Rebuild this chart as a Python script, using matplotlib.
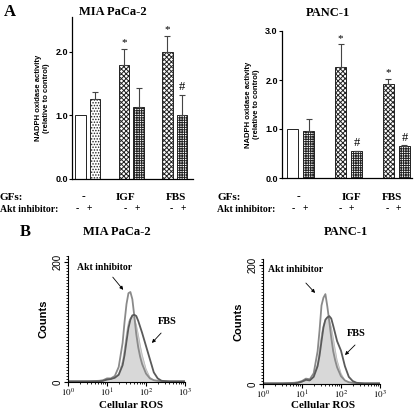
import numpy as np
import matplotlib
matplotlib.use('Agg')
import matplotlib.pyplot as plt
from matplotlib.patches import FancyArrowPatch
from matplotlib.ticker import MultipleLocator, LogLocator, NullFormatter

plt.rcParams['hatch.linewidth'] = 0.7
plt.rcParams['mathtext.fontset'] = 'stix'

# panel A data
groups = ['-', 'IGF', 'FBS']
akt = ['-', '+']
mia_mean = [1.0, 1.26, 1.795, 1.13, 2.0, 1.01]
mia_err = [0.0, 0.11, 0.245, 0.31, 0.25, 0.31]
mia_marks = ['', '', '*', '', '*', '#']
panc_mean = [1.0, 0.96, 2.26, 0.55, 1.91, 0.65]
panc_err = [0.0, 0.25, 0.47, 0.01, 0.11, 0.02]
panc_marks = ['', '', '*', '#', '*', '#']

# panel B data (log10 of cellular ROS, counts)
log_ros = [0.0, 0.5, 0.8, 0.9, 1.0, 1.1, 1.2, 1.3, 1.4, 1.45, 1.5, 1.55, 1.6, 1.65,
           1.7, 1.75, 1.8, 1.85, 1.9, 2.0, 2.1, 2.2, 2.3, 2.4, 2.6, 3.0]
mia_akt = [1, 1, 2, 3, 6, 6, 10, 25, 65, 100, 130, 148, 150, 138,
           110, 80, 58, 42, 30, 14, 6, 3, 2, 1, 1, 1]
mia_fbs = [1, 1, 1, 2, 4, 5, 7, 12, 28, 45, 68, 90, 104, 111,
           112, 110, 102, 92, 82, 60, 38, 16, 6, 2, 1, 1]
mia_ctl = [0, 0, 1, 2, 3, 4, 7, 14, 36, 58, 82, 100, 107, 110,
           106, 96, 80, 62, 46, 22, 8, 3, 1, 0, 0, 0]
panc_akt = [1, 1, 2, 3, 5, 9, 8, 18, 55, 90, 132, 145, 151, 130,
            105, 78, 55, 40, 28, 13, 6, 3, 2, 1, 1, 1]
panc_fbs = [1, 1, 1, 2, 4, 7, 6, 12, 30, 48, 72, 95, 108, 112,
            114, 110, 98, 85, 72, 56, 30, 12, 5, 2, 1, 1]
panc_ctl = [0, 0, 1, 2, 3, 5, 5, 12, 35, 60, 85, 100, 108, 111,
            108, 96, 78, 58, 40, 18, 6, 2, 1, 0, 0, 0]

W, H = 416, 412
fig = plt.figure(figsize=(W / 100, H / 100), dpi=100)


def fx(x):
    return x / W


def fy(y):
    return 1 - y / H


def box(l, t, r, b):
    return [fx(l), fy(b), fx(r) - fx(l), fy(t) - fy(b)]


serif = 'Liberation Serif'
sans = 'Liberation Sans'
pos = [0, 1, 3, 4, 6, 7]


def bar_panel(rect, mean, err, marks, hatches, ylim, ticks, xlim, width):
    ax = fig.add_axes(rect)
    for p, m, e, h, mk in zip(pos, mean, err, hatches, marks):
        ax.bar(p, m, width=width, color='white', edgecolor='#222222', hatch=h, linewidth=0.7)
        if e > 0:
            ax.errorbar(p, m, yerr=[[0], [e]], color='#444444', capsize=2, elinewidth=0.8, capthick=0.8)
        if mk:
            ax.text(p, m + e + 0.03, mk, ha='center', va='bottom', family=serif, fontsize=9 if mk == '#' else 8)
    ax.set_ylim(*ylim)
    ax.set_xlim(*xlim)
    ax.spines['top'].set_visible(False)
    ax.spines['right'].set_visible(False)
    ax.set_xticks([])
    ax.set_yticks(ticks)
    ax.set_yticklabels(['%.1f' % t for t in ticks], family=sans, fontweight='bold', fontsize=6.5)
    ax.tick_params(axis='y', length=2, width=0.8, pad=1)
    for s in ['left', 'bottom']:
        ax.spines[s].set_linewidth(0.9)
    ax.set_ylabel('NADPH oxidase activity\n(relative to control)', family=sans,
                  fontweight='bold', fontsize=5.5, labelpad=4)
    return ax


ax1 = bar_panel(box(72, 17, 193, 179), mia_mean, mia_err, mia_marks,
                ['', '......', 'xxxxxxx', '+++++++', 'xxxxxxx', '+++++++'],
                (0, 2.55), [0.0, 1.0, 2.0], (-0.59, 7.76), 0.72)
ax2 = bar_panel(box(282, 31, 412, 178), panc_mean, panc_err, panc_marks,
                ['', '+++++++', 'xxxxxxx', '+++++++', 'xxxxxxx', '+++++++'],
                (0, 3.0), [0.0, 1.0, 2.0, 3.0], (-0.66, 7.47), 0.69)

fig.text(fx(4), fy(12), 'A', family=serif, fontweight='bold', fontsize=12, va='center')
fig.text(fx(113), fy(12), 'MIA PaCa-2', family=serif, fontweight='bold', fontsize=9, ha='center', va='center')
fig.text(fx(328), fy(13), 'PANC-1', family=serif, fontweight='bold', fontsize=9, ha='center', va='center')

# group labels below panel A
for x0, gx, ax_x in [(0, [83, 126, 176], [77, 89, 125, 137, 171, 183]),
                     (217, [298, 352, 392], [293, 305, 340, 351, 387, 398])]:
    fig.text(fx(x0), fy(197), 'GFs:', family=serif, fontweight='bold', fontsize=8, va='center')
    fig.text(fx(x0), fy(209), 'Akt inhibitor:', family=serif, fontweight='bold', fontsize=7, va='center')
    for g, x in zip(groups, gx):
        fig.text(fx(x), fy(197), g, family=serif, fontweight='bold', fontsize=8, ha='center', va='center')
    for i, x in enumerate(ax_x):
        fig.text(fx(x), fy(209), akt[i % 2], family=serif, fontweight='bold', fontsize=7, ha='center', va='center')

fig.text(fx(20), fy(232), 'B', family=serif, fontweight='bold', fontsize=12, va='center')
fig.text(fx(117), fy(232), 'MIA PaCa-2', family=serif, fontweight='bold', fontsize=9, ha='center', va='center')
fig.text(fx(346), fy(232), 'PANC-1', family=serif, fontweight='bold', fontsize=9, ha='center', va='center')


def hist_panel(rect, akt_c, fbs_c, ctl_c, akt_txt, akt_arrow, fbs_txt, fbs_arrow, ros_xy):
    ax = fig.add_axes(rect)
    x = 10 ** np.array(log_ros)
    ax.fill_between(x, ctl_c, color='#d8d8d8', linewidth=0)
    ax.plot(x, ctl_c, color='#bbbbbb', linewidth=0.6)
    ax.plot(x, akt_c, color='#8a8a8a', linewidth=1.3)
    ax.plot(x, fbs_c, color='#5a5a5a', linewidth=1.3)
    ax.set_xscale('log')
    ax.set_xlim(1, 1000)
    ax.set_ylim(0, 210)
    ax.spines['top'].set_visible(False)
    ax.spines['right'].set_visible(False)
    ax.set_xticks([1, 10, 100, 1000])
    ax.set_xticklabels([r'$10^{0}$', r'$10^{1}$', r'$10^{2}$', r'$10^{3}$'], fontsize=6.5)
    ax.xaxis.set_minor_locator(LogLocator(base=10, subs=np.arange(2, 10)))
    ax.xaxis.set_minor_formatter(NullFormatter())
    ax.set_yticks([0, 200])
    ax.set_yticklabels(['0', '200'], family=sans, fontsize=7, rotation=90, va='center')
    ax.yaxis.set_minor_locator(MultipleLocator(5))
    ax.tick_params(axis='both', which='major', length=3, width=0.8, pad=1)
    ax.tick_params(axis='x', which='major', pad=0.5)
    ax.tick_params(axis='both', which='minor', length=1.5, width=0.6)
    ax.set_ylabel('Counts', family=sans, fontweight='bold', fontsize=8, labelpad=3)
    fig.text(fx(ros_xy[0]), fy(ros_xy[1]), 'Cellular ROS', family=serif,
             fontweight='bold', fontsize=8, ha='center', va='center')
    fig.text(fx(akt_txt[0]), fy(akt_txt[1]), 'Akt inhibitor', family=serif, fontweight='bold',
             fontsize=7, va='center')
    fig.text(fx(fbs_txt[0]), fy(fbs_txt[1]), 'FBS', family=serif, fontweight='bold',
             fontsize=7.5, va='center')
    for (x0, y0, x1, y1) in [akt_arrow, fbs_arrow]:
        fig.add_artist(FancyArrowPatch(
            (fx(x0), fy(y0)), (fx(x1), fy(y1)), transform=fig.transFigure,
            arrowstyle='-|>', mutation_scale=5, color='black', linewidth=0.6))
    return ax


hist_panel(box(68, 256, 185, 382), mia_akt, mia_fbs, mia_ctl,
           (77, 267), (111, 275, 125, 292), (158, 322), (163, 331, 150, 345), (131, 405))
hist_panel(box(263, 259, 380, 384), panc_akt, panc_fbs, panc_ctl,
           (268, 269), (304, 281, 317, 295), (347, 333), (357, 343, 343, 357), (323, 406))

fig.savefig('out.png', dpi=100)
